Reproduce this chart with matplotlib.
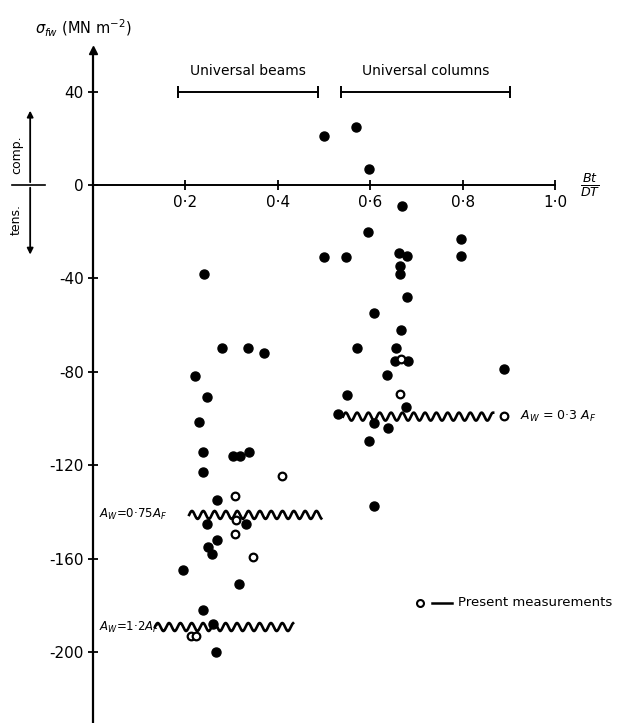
import numpy as np
import matplotlib
matplotlib.use('Agg')
import matplotlib.pyplot as plt

# ---- data ----
# filled dots (earlier measurements)
beam_x = [0.240, 0.279, 0.336, 0.370, 0.221, 0.247, 0.230, 0.239, 0.304, 0.318,
          0.338, 0.237, 0.268, 0.247, 0.331, 0.269, 0.248, 0.257, 0.195, 0.315,
          0.237, 0.259, 0.266]
beam_y = [-38, -70, -70, -72, -82, -91, -101.5, -114.5, -116, -116,
          -114.5, -123, -135, -145, -145, -152, -155, -158, -165, -171,
          -182, -188, -200]
col_x = [0.499, 0.569, 0.597, 0.668, 0.596, 0.797, 0.499, 0.547, 0.663, 0.679,
         0.797, 0.664, 0.664, 0.679, 0.608, 0.667, 0.572, 0.655, 0.654, 0.681,
         0.890, 0.637, 0.549, 0.677, 0.530, 0.608, 0.639, 0.597, 0.608]
col_y = [21, 25, 7, -9, -20, -23, -31, -31, -29, -30.5,
         -30.5, -34.5, -38, -48, -55, -62, -70, -70, -75.5, -75.5,
         -79, -81.5, -90, -95, -98, -102, -104, -109.5, -137.5]
# open circles (present measurements)
open_x = [0.409, 0.308, 0.310, 0.307, 0.347, 0.213, 0.222, 0.667, 0.665, 0.889]
open_y = [-124.5, -133, -143.5, -149.5, -159.5, -193, -193, -74.7, -89.5, -99]

# wavy lines: (x start, x end, level)
wavy_lines = [(0.208, 0.494, -141.3), (0.134, 0.433, -189.3), (0.541, 0.866, -99.2)]

yticks = [40, 0, -40, -80, -120, -160, -200]
xticks = [0.2, 0.4, 0.6, 0.8, 1.0]
xtick_labels = ['0·2', '0·4', '0·6', '0·8', '1·0']

fig = plt.figure(figsize=(6.41, 7.23), dpi=100)
ax = fig.add_axes([0, 0, 1, 1])
ax.set_xlim(-0.2013, 1.186)
ax.set_ylim(-230.4, 79.2)

for s in ['top', 'right']:
    ax.spines[s].set_visible(False)
ax.spines['left'].set_position('zero')
ax.spines['bottom'].set_position('zero')
ax.spines['left'].set_bounds(-231, 58)
ax.spines['bottom'].set_bounds(0, 1.0)
ax.spines['left'].set_linewidth(1.6)
ax.spines['bottom'].set_linewidth(1.4)
ax.plot([0], [58], marker='^', color='black', ms=6, clip_on=False)

ax.set_yticks(yticks)
ax.set_yticklabels([str(v) for v in yticks], fontsize=11)
ax.set_xticks(xticks)
ax.set_xticklabels(xtick_labels, fontsize=11)
ax.tick_params(axis='y', direction='inout', length=7, width=1.3, pad=3)
ax.tick_params(axis='x', direction='inout', length=7, width=1.3, pad=4)

# data
ax.plot(beam_x + col_x, beam_y + col_y, 'o', color='black', ms=6.5, zorder=4)
ax.plot(open_x, open_y, 'o', mfc='white', mec='black', ms=5.5, mew=1.6, zorder=5)

# wavy lines
for x0, x1, lev in wavy_lines:
    xx = np.linspace(x0, x1, 400)
    period = 0.0245
    ax.plot(xx, lev + 1.7 * np.sin(2 * np.pi * (xx - x0) / period),
            color='black', lw=1.9, zorder=3)

ax.text(0.012, -141.3, r'$A_W$=0·75$A_F$', fontsize=8.5, va='center', ha='left')
ax.text(0.012, -189.3, r'$A_W$=1·2$A_F$', fontsize=8.5, va='center', ha='left')
ax.text(0.925, -99.2, r'$A_W$ = 0·3 $A_F$', fontsize=9, va='center', ha='left')

# range brackets
for x0, x1, lab in [(0.185, 0.487, 'Universal beams'), (0.537, 0.903, 'Universal columns')]:
    ax.plot([x0, x1], [40, 40], color='black', lw=1.4)
    ax.plot([x0, x1], [40, 40], '|', color='black', ms=8, mew=1.4)
    ax.text((x0 + x1) / 2, 46, lab, fontsize=10, ha='center', va='bottom')

# axis labels
ax.text(-0.022, 67, r'$\sigma_{fw}$ (MN m$^{-2}$)', fontsize=10.5, ha='center', va='center')
ax.text(1.076, 0, r'$\frac{Bt}{DT}$', fontsize=13, ha='center', va='center')

# comp / tens arrow
ax.annotate('', xy=(-0.136, 33), xytext=(-0.136, 0),
            arrowprops=dict(arrowstyle='-|>', color='black', lw=1.3, mutation_scale=9))
ax.annotate('', xy=(-0.136, -31), xytext=(-0.136, 0),
            arrowprops=dict(arrowstyle='-|>', color='black', lw=1.3, mutation_scale=9))
ax.plot([-0.175, -0.104], [0, 0], color='black', lw=1.2)
ax.text(-0.166, 13, 'comp.', rotation=90, fontsize=9, ha='center', va='center')
ax.text(-0.166, -15, 'tens.', rotation=90, fontsize=9, ha='center', va='center')

# legend
ax.plot([0.708], [-179], 'o', mfc='white', mec='black', ms=5, mew=1.5)
ax.plot([0.734, 0.777], [-179, -179], color='black', lw=1.8)
ax.text(0.790, -179, 'Present measurements', fontsize=9.5, ha='left', va='center')

fig.savefig('out.png', dpi=100)
